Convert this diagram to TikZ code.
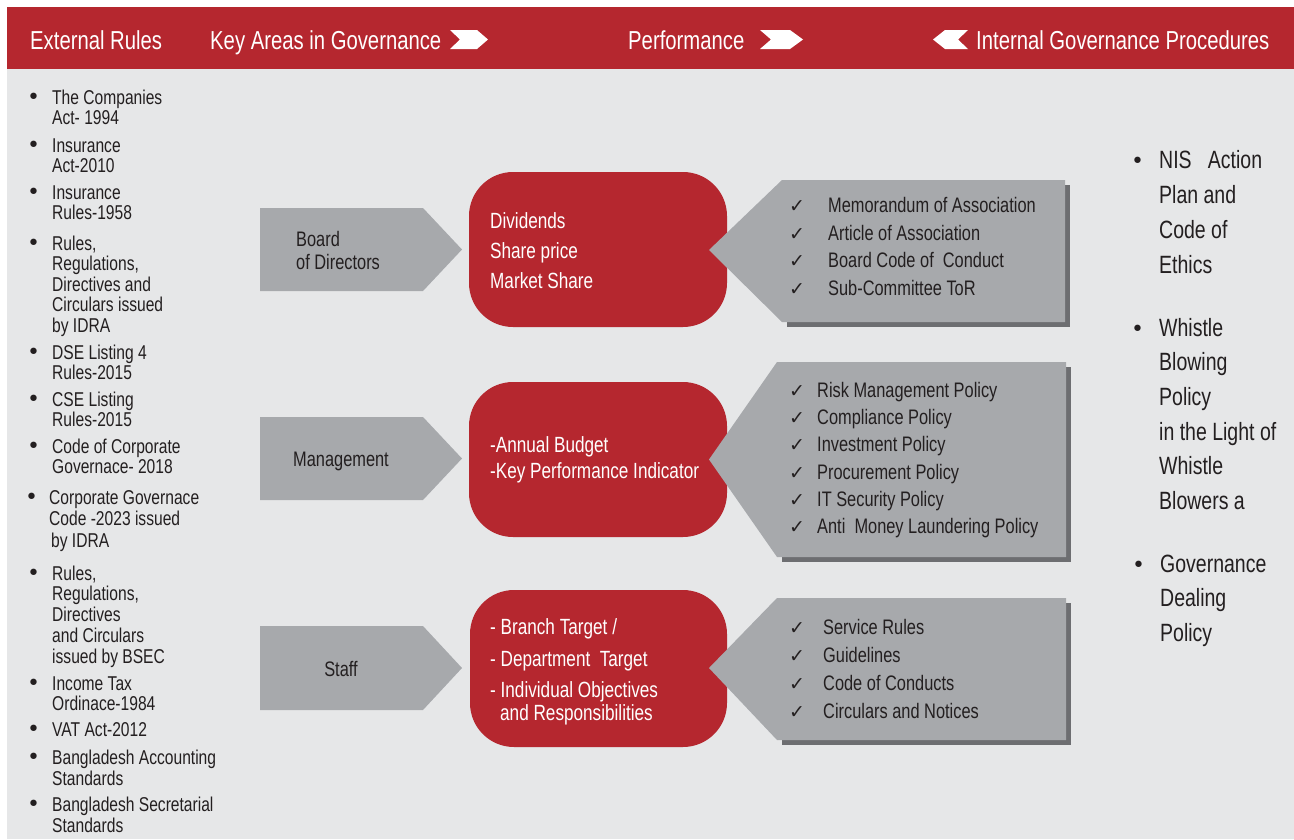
\documentclass[tikz,border=0pt]{standalone}
\usepackage{fontspec}
\setmainfont[FakeStretch=0.78]{Liberation Sans}
\newfontfamily\checkfont{DejaVu Sans}
\usepackage{xcolor}
\definecolor{govred}{HTML}{B5272F}
\definecolor{bggray}{HTML}{E6E7E8}
\definecolor{boxgray}{HTML}{A7A9AC}
\definecolor{shadowgray}{HTML}{6D6E71}
\definecolor{txtdark}{HTML}{231F20}
\newcommand{\ck}[1]{\makebox[#1pt][l]{\fontsize{19}{19}\checkfont ✓}}
\newcommand{\bul}[1]{\makebox[#1pt][l]{\fontsize{22}{22}\checkfont •}}
\newcommand{\ind}[1]{\hspace*{#1pt}}

\begin{document}
\begin{tikzpicture}[x=1pt,y=-1pt,
  hdr/.style={anchor=base west,text=white,font=\fontsize{26}{30}\selectfont},
  chev/.style={fill=white},
  redbox/.style={fill=govred,rounded corners=44pt},
  graybox/.style={fill=boxgray},
  shadowbox/.style={fill=shadowgray},
  redtext/.style={anchor=base west,align=left,text=white,font=\fontsize{22}{30}\selectfont},
  arrtext/.style={anchor=base,align=left,text=txtdark,font=\fontsize{21}{23}\selectfont},
  chklist/.style={anchor=base west,align=left,text=txtdark,font=\fontsize{21}{27.7}\selectfont},
  lst/.style={anchor=base west,align=left,text=txtdark,font=\fontsize{20}{20.5}\selectfont},
  rlst/.style={anchor=base west,align=left,text=txtdark,font=\fontsize{25}{34.7}\selectfont}]
\tikzstyle{every node}+=[inner sep=0pt]
\useasboundingbox (0,0) rectangle (1294,839);
\fill [white] (0,0) rectangle (1294,839);
\fill [bggray] (7,69) rectangle (1294,839);
\fill [govred] (7,7) rectangle (1294,69);
\draw (30,49) node[hdr] (hext) {External Rules};
\draw (210,49) node[hdr] (hkey) {Key Areas in Governance};
\draw (628,49) node[hdr] (hperf) {Performance};
\draw (976,49) node[hdr] (hint) {Internal Governance Procedures};
\fill [chev] (450,30) -- (477,30) -- (488,39.5) -- (477,49) -- (450,49) -- (460,39.5) -- cycle;
\fill [chev] (760,30) -- (790,30) -- (803,39.5) -- (790,49) -- (760,49) -- (771,39.5) -- cycle;
\fill [chev] (968,30) -- (945,30) -- (933,39.5) -- (945,49) -- (968,49) -- (958,39.5) -- cycle;
\fill [graybox] (260,208) -- (423,208) -- (462,249.5) -- (423,291) -- (260,291) -- cycle;
\fill [graybox] (260,417) -- (423,417) -- (462,458.5) -- (423,500) -- (260,500) -- cycle;
\fill [graybox] (260,626) -- (423,626) -- (462,668) -- (423,710) -- (260,710) -- cycle;
\draw (296,269) node[arrtext,anchor=base west] (bod) {Board\\of Directors};
\draw (341,466) node[arrtext] (mgmt) {Management};
\draw (341,676) node[arrtext] (staff) {Staff};
\fill [redbox] (469,172) rectangle (727,327);
\fill [redbox] (469,382) rectangle (727,537);
\fill [redbox] (470,590) rectangle (727,747);
\draw (490,288) node[redtext] (divs) {Dividends\\Share price\\Market Share};
\draw (490,478.5) node[redtext,font=\fontsize{22}{26.5}\selectfont] (budget) {-Annual Budget\\-Key Performance Indicator};
\draw (490,720) node[redtext,font=\fontsize{22}{23}\selectfont] (target) {- Branch Target /\\[9pt]- Department\ \ Target\\[8pt]- Individual Objectives\\\ind{10}and Responsibilities};
\fill [shadowbox] (787,185) rectangle (1070,327);
\fill [graybox] (709,250) -- (782,180) -- (1065,180) -- (1065,322) -- (782,322) -- cycle;
\fill [shadowbox] (782,367) rectangle (1071,562);
\fill [graybox] (709,459.5) -- (777,362) -- (1066,362) -- (1066,557) -- (777,557) -- cycle;
\fill [shadowbox] (782,603) rectangle (1071,745);
\fill [graybox] (709,668) -- (777,598) -- (1066,598) -- (1066,740) -- (777,740) -- cycle;
\draw (789,295.5) node[chklist] (bdocs) {\ck{39}Memorandum of Association\\\ck{39}Article of Association\\\ck{39}Board Code of\ \ Conduct\\\ck{39}Sub-Committee ToR};
\draw (789,533.5) node[chklist,font=\fontsize{21}{27.2}\selectfont] (mpol) {\ck{28}Risk Management Policy\\\ck{28}Compliance Policy\\\ck{28}Investment Policy\\\ck{28}Procurement Policy\\\ck{28}IT Security Policy\\\ck{28}Anti\ \ Money Laundering Policy};
\draw (789,718.5) node[chklist,font=\fontsize{21}{28}\selectfont] (sdocs) {\ck{34}Service Rules\\\ck{34}Guidelines\\\ck{34}Code of Conducts\\\ck{34}Circulars and Notices};
\draw (27,124.5) node[lst] (ext1) {\bul{25}The Companies\\\ind{25}Act- 1994};
\draw (27,172.5) node[lst] (ext2) {\bul{25}Insurance\\\ind{25}Act-2010};
\draw (27,219.5) node[lst] (ext3) {\bul{25}Insurance\\\ind{25}Rules-1958};
\draw (27,332) node[lst] (ext4) {\bul{25}Rules,\\\ind{25}Regulations,\\\ind{25}Directives and\\\ind{25}Circulars issued\\\ind{25}by IDRA};
\draw (27,379.5) node[lst] (ext5) {\bul{25}DSE Listing 4\\\ind{25}Rules-2015};
\draw (27,426.5) node[lst] (ext6) {\bul{25}CSE Listing\\\ind{25}Rules-2015};
\draw (27,473.5) node[lst] (ext7) {\bul{25}Code of Corporate\\\ind{25}Governace- 2018};
\draw (25,547) node[lst,font=\fontsize{20}{21.5}\selectfont] (ext8) {\bul{24}Corporate Governace\\\ind{24}Code -2023 issued\\\ind{26}by IDRA};
\draw (27,663) node[lst,font=\fontsize{20}{20.75}\selectfont] (ext9) {\bul{25}Rules,\\\ind{25}Regulations,\\\ind{25}Directives\\\ind{25}and Circulars\\\ind{25}issued by BSEC};
\draw (27,710.5) node[lst] (ext10) {\bul{25}Income Tax\\\ind{25}Ordinace-1984};
\draw (27,736) node[lst] (ext11) {\bul{25}VAT Act-2012};
\draw (27,785) node[lst,font=\fontsize{20}{21}\selectfont] (ext12) {\bul{25}Bangladesh Accounting\\\ind{25}Standards};
\draw (27,832) node[lst,font=\fontsize{20}{21}\selectfont] (ext13) {\bul{25}Bangladesh Secretarial\\\ind{25}Standards};
\draw (1131,273) node[rlst] (int1) {\bul{28}NIS\ \ \ Action\\\ind{28}Plan and\\\ind{28}Code of\\\ind{28}Ethics};
\draw (1131,509.5) node[rlst] (int2) {\bul{28}Whistle\\\ind{28}Blowing\\\ind{28}Policy\\\ind{28}in the Light of\\\ind{28}Whistle\\\ind{28}Blowers a};
\draw (1132,641.5) node[rlst] (int3) {\bul{28}Governance\\\ind{28}Dealing\\\ind{28}Policy};
\end{tikzpicture}
\end{document}
